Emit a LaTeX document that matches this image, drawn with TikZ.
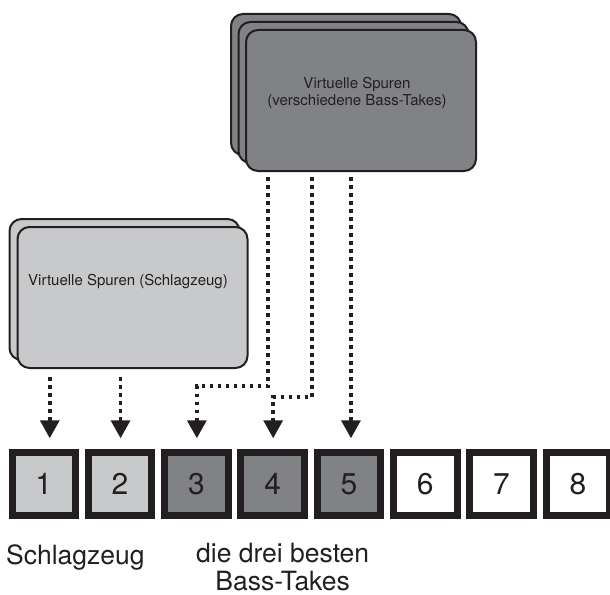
\documentclass[tikz,border=0pt]{standalone}
\usepackage{fontspec}
\setmainfont{TeX Gyre Heros}
\usetikzlibrary{arrows.meta,positioning}
\definecolor{drumgray}{HTML}{C8C9CB}
\definecolor{bassgray}{HTML}{808285}
\definecolor{inkdark}{HTML}{231F20}

\begin{document}
\begin{tikzpicture}[x=1pt,y=-1pt,
  spur/.style={draw=inkdark,line width=2pt,rounded corners=12pt,minimum width=230pt,minimum height=141pt},
  spurtext/.style={font=\fontsize{15}{17.5}\selectfont,align=center,text=inkdark},
  track/.style={draw=inkdark,line width=7pt,minimum size=63.5pt,inner sep=0pt,font=\fontsize{30}{30}\selectfont,text=inkdark},
  caption/.style={font=\fontsize{26.5}{28}\selectfont,align=center,inner sep=0pt,text=inkdark},
  link/.style={inkdark,line width=3.5pt,dash pattern=on 3.5pt off 4.5pt,-{Triangle[width=19pt,length=18pt]}}]
  \useasboundingbox (0,0) rectangle (610,594);

  % virtuelle Spuren
  \node[spur,fill=drumgray] (drumback) at (124.5,289.5) {};
  \node[spur,fill=drumgray] (drumfront) at ([xshift=8,yshift=-8]drumback.center) {};
  \node[spurtext] (drumlabel) at ([xshift=-4.5,yshift=15.5]drumfront.center) {Virtuelle Spuren (Schlagzeug)};

  \node[spur,fill=bassgray] (bassback) at (346,84.5) {};
  \node[spur,fill=bassgray] (bassmid) at ([xshift=7.5,yshift=-8]bassback.center) {};
  \node[spur,fill=bassgray] (bassfront) at ([xshift=7.5,yshift=-8]bassmid.center) {};
  \node[spurtext] (basslabel) at ([xshift=-4,yshift=7.5]bassfront.center) {Virtuelle Spuren\\(verschiedene Bass-Takes)};

  % Spuren 1-8
  \foreach \i/\col in {1/drumgray,2/drumgray,3/bassgray,4/bassgray,5/bassgray,6/white,7/white,8/white}
    \node[track,fill=\col] (t\i) at ({43.75+(\i-1)*76.3},484) {\i};

  \coordinate (tip1) at ([xshift=6,yshift=10.5]t1.north);
  \foreach \i in {2,3,4}
    \coordinate (tip\i) at ([xshift=0.5,yshift=10.5]t\i.north);
  \coordinate (tip5) at ([xshift=2,yshift=10.5]t5.north);

  \draw[link,shorten <=8pt] (drumfront.south -| tip1) -- (tip1);
  \draw[link,shorten <=8pt] (drumfront.south -| tip2) -- (tip2);
  \draw[link,shorten <=5pt] ([xshift=-93]bassfront.south) -- ++(0,214) -| (tip3);
  \draw[link,shorten <=5pt] ([xshift=-49]bassfront.south) -- ++(0,225) -| (tip4);
  \draw[link,shorten <=5pt] (bassfront.south -| tip5) -- (tip5);

  \node[caption,anchor=north west] (drumcap) at ([xshift=-2.5,yshift=-25]t1.south west) {Schlagzeug};
  \node[caption,anchor=north] (basscap) at ([xshift=10,yshift=-24]t4.south) {die drei besten\\Bass-Takes};
\end{tikzpicture}
\end{document}
